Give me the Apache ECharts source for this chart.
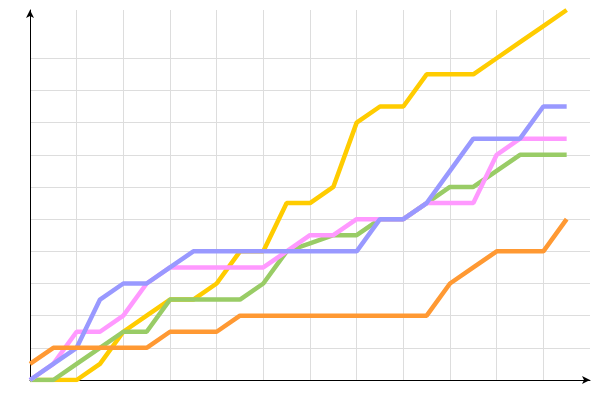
<!DOCTYPE html>
<html>
<head>
<meta charset="utf-8">
<script src="https://cdn.jsdelivr.net/npm/echarts@6/dist/echarts.min.js"></script>
<style>html,body{margin:0;padding:0;background:#fff;}#c{width:600px;height:400px;}</style>
</head>
<body>
<div id="c"></div>
<script>
const periods = ['1','2','3','4','5','6','7','8','9','10','11','12','13','14','15','16','17','18','19','20','21','22','23','24','25'];
const yellowValues = [0,0,0,0.5,1.5,2,2.5,2.5,3,4,4,5.5,5.5,6,8,8.5,8.5,9.5,9.5,9.5,10,10.5,11,11.5];
const greenValues  = [0,0,0.5,1,1.5,1.5,2.5,2.5,2.5,2.5,3,4,4.25,4.5,4.5,5,5,5.5,6,6,6.5,7,7,7];
const pinkValues   = [0,0.5,1.5,1.5,2,3,3.5,3.5,3.5,3.5,3.5,4,4.5,4.5,5,5,5,5.5,5.5,5.5,7,7.5,7.5,7.5];
const blueValues   = [0,0.5,1,2.5,3,3,3.5,4,4,4,4,4,4,4,4,5,5,5.5,6.5,7.5,7.5,7.5,8.5,8.5];
const orangeValues = [0.5,1,1,1,1,1,1.5,1.5,1.5,2,2,2,2,2,2,2,2,2,3,3.5,4,4,4,5];

const seriesList = [
  {name:'Yellow', values: yellowValues, color:'#ffcc00'},
  {name:'Green', values: greenValues, color:'#99cc66'},
  {name:'Pink', values: pinkValues, color:'#ff99ff'},
  {name:'Blue', values: blueValues, color:'#9999ff'},
  {name:'Orange', values: orangeValues, color:'#ff9933'}
];

const chart = echarts.init(document.getElementById('c'));
const unitX = 560 / 24;
const unitY = 370 / 11.5;
const hidden = {show:false};
chart.setOption({
  animation: false,
  grid: [
    {left:30, right:10, top:10, bottom:20},
    {left:30, right:600 - 30 - 22 * unitX, top:10, bottom:20},
    {left:30, right:10, top:10 + 1.5 * unitY, bottom:20}
  ],
  xAxis: [
    {type:'category', gridIndex:0, data: periods, boundaryGap:false,
     axisLine:{show:true, lineStyle:{color:'#000', width:1}, symbol:['none','arrow'], symbolSize:[6,8]},
     axisTick:hidden, axisLabel:hidden, splitLine:hidden},
    {type:'value', gridIndex:1, min:0, max:22, interval:2,
     axisLine:hidden, axisTick:hidden, axisLabel:hidden,
     splitLine:{show:true, lineStyle:{color:'#dddddd', width:1}}},
    {type:'value', gridIndex:2, min:0, max:1, show:false}
  ],
  yAxis: [
    {type:'value', gridIndex:0, min:0, max:11.5,
     axisLine:{show:true, lineStyle:{color:'#000', width:1}, symbol:['none','arrow'], symbolSize:[6,8]},
     axisTick:hidden, axisLabel:hidden, splitLine:hidden},
    {type:'value', gridIndex:1, min:0, max:1, show:false},
    {type:'value', gridIndex:2, min:0, max:10, interval:1,
     axisLine:hidden, axisTick:hidden, axisLabel:hidden,
     splitLine:{show:true, lineStyle:{color:'#dddddd', width:1}}}
  ],
  series: seriesList.map(s => ({
    name: s.name,
    type: 'line',
    xAxisIndex: 0,
    yAxisIndex: 0,
    data: s.values,
    symbol: 'none',
    z: 5,
    lineStyle: {color: s.color, width: 4.5},
    itemStyle: {color: s.color}
  }))
});
</script>
</body>
</html>
